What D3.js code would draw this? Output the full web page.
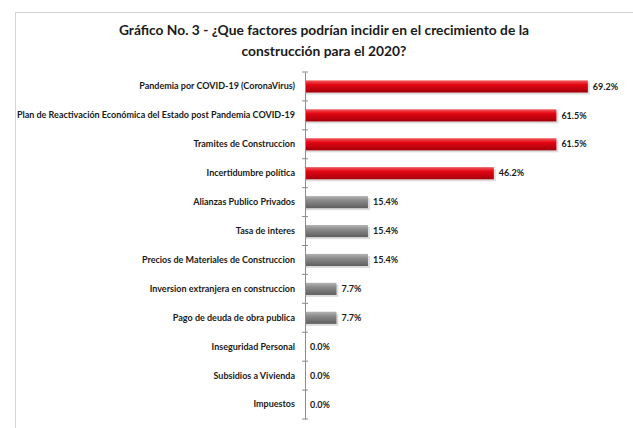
<!DOCTYPE html>
<html>
<head>
<meta charset="utf-8">
<script src="https://cdn.jsdelivr.net/npm/d3@7"></script>
<style>
  body { margin: 0; background: #fff; }
  svg { display: block; }
</style>
</head>
<body>
<script>
// datos del grafico
var categorias = [
  "Pandemia por COVID-19 (CoronaVirus)",
  "Plan de Reactivación Económica del Estado post Pandemia COVID-19",
  "Tramites de Construccion",
  "Incertidumbre política",
  "Alianzas Publico Privados",
  "Tasa de interes",
  "Precios de Materiales de Construccion",
  "Inversion extranjera en construccion",
  "Pago de deuda de obra publica",
  "Inseguridad Personal",
  "Subsidios a Vivienda",
  "Impuestos"
];
var valores = [0.692, 0.615, 0.615, 0.462, 0.154, 0.154, 0.154, 0.077, 0.077, 0, 0, 0];
var destacados = ["Pandemia por COVID-19 (CoronaVirus)",
  "Plan de Reactivación Económica del Estado post Pandemia COVID-19",
  "Tramites de Construccion", "Incertidumbre política"];
var titulo = ["Gráfico No. 3 - ¿Que factores podrían incidir en el crecimiento de la",
  "construcción para el 2020?"];

var w = 633, h = 428;
var fuente = "Lato, 'Open Sans', sans-serif";

var svg = d3.select("body").append("svg")
  .attr("width", w)
  .attr("height", h);

// gradientes para barras con relieve
var defs = svg.append("defs");
function gradiente(id, c1, c2, c3) {
  var g = defs.append("linearGradient").attr("id", id)
    .attr("x1", 0).attr("y1", 0).attr("x2", 0).attr("y2", 1);
  g.append("stop").attr("offset", "0%").attr("stop-color", c1);
  g.append("stop").attr("offset", "35%").attr("stop-color", c2);
  g.append("stop").attr("offset", "100%").attr("stop-color", c3);
}
gradiente("rojo", "#f25a5e", "#e30613", "#a3000a");
gradiente("gris", "#b4b4b4", "#8c8c8c", "#5e5e5e");

// marco
svg.append("rect")
  .attr("x", 15.5).attr("y", 12.5)
  .attr("width", 700).attr("height", 500)
  .attr("fill", "#fff")
  .attr("stroke", "#d4d4d4");

// titulo
svg.append("text")
  .attr("x", 324)
  .attr("y", 35)
  .attr("text-anchor", "middle")
  .style("font-family", fuente)
  .style("font-weight", "bold")
  .style("font-size", "13.8px")
  .attr("fill", "#1a1a1a")
  .selectAll("tspan")
  .data(titulo)
  .enter()
  .append("tspan")
  .attr("x", 324)
  .attr("dy", function(d, i){ return i == 0 ? 0 : 21; })
  .text(function(d){ return d; });

var x0 = 305;
var x = d3.scaleLinear().domain([0, 0.8]).range([x0, 632]);
var y = d3.scaleBand().domain(categorias).range([72, 419])
  .paddingInner(0.58).paddingOuter(0.29);

// sombras
svg.selectAll("rect.sombra")
  .data(valores)
  .enter()
  .append("rect")
  .attr("class", "sombra")
  .attr("x", x0 + 1)
  .attr("y", function(d, i){ return y(categorias[i]) + 2; })
  .attr("width", function(d){ return d > 0 ? x(d) - x0 + 1 : 0; })
  .attr("height", y.bandwidth())
  .attr("fill", "#cfcfcf")
  .attr("opacity", 0.7);

// barras
svg.selectAll("rect.barra")
  .data(valores)
  .enter()
  .append("rect")
  .attr("class", "barra")
  .attr("x", x0)
  .attr("y", function(d, i){ return y(categorias[i]); })
  .attr("width", function(d){ return x(d) - x0; })
  .attr("height", y.bandwidth())
  .attr("fill", function(d, i){
    return destacados.indexOf(categorias[i]) >= 0 ? "url(#rojo)" : "url(#gris)";
  });

// etiquetas de valor
svg.selectAll("text.valor")
  .data(valores)
  .enter()
  .append("text")
  .attr("class", "valor")
  .attr("x", function(d){ return x(d) + 5; })
  .attr("y", function(d, i){ return y(categorias[i]) + y.bandwidth() / 2; })
  .attr("dy", "0.35em")
  .style("font-family", fuente)
  .style("font-weight", "bold")
  .style("font-size", "9px")
  .attr("fill", "#1a1a1a")
  .text(function(d){ return d3.format(".1%")(d); });

// eje de categorias
var eje = svg.append("g")
  .attr("transform", "translate(" + x0 + ",0)")
  .call(d3.axisLeft(y).tickSize(0).tickPadding(10));
eje.select(".domain").attr("stroke", "#8c8c8c");
eje.selectAll("text")
  .style("font-family", fuente)
  .style("font-weight", "bold")
  .style("font-size", "9px")
  .attr("fill", "#1a1a1a");

// marcas entre categorias
var limites = categorias.map(function(c){ return y(c) - y.step() * y.paddingInner() / 2; });
limites.push(419);
svg.selectAll("line.marca")
  .data(limites)
  .enter()
  .append("line")
  .attr("class", "marca")
  .attr("x1", x0 - 3).attr("x2", x0 + 3)
  .attr("y1", function(d){ return d; })
  .attr("y2", function(d){ return d; })
  .attr("stroke", "#8c8c8c");
</script>
</body>
</html>
